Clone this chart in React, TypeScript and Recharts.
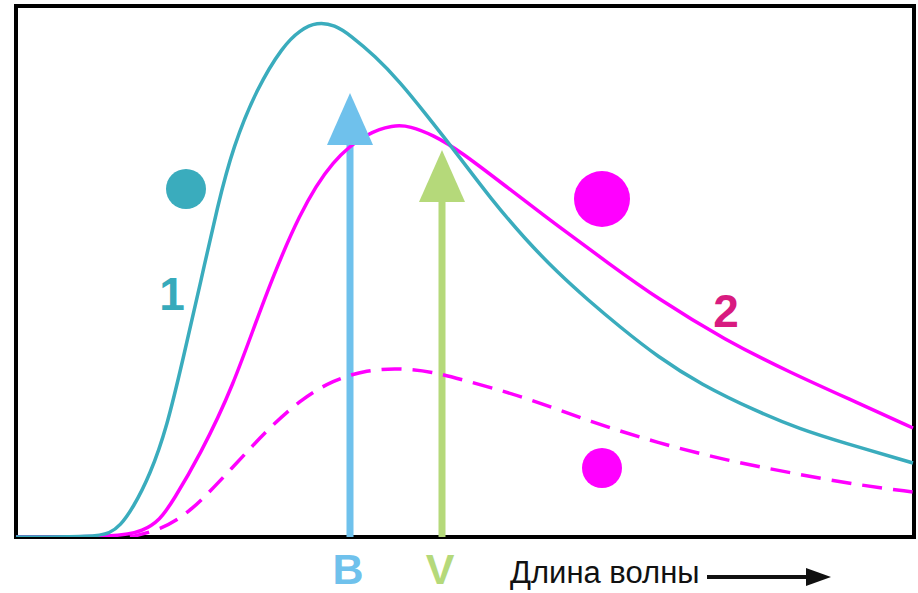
import {
  ComposedChart,
  Line,
  Scatter,
  XAxis,
  YAxis,
  ReferenceArea,
  ReferenceLine,
} from 'recharts';

// wavelength (arbitrary units) vs. flux (arbitrary units)
const curve1 = [
  { x: 0, y: 0 }, { x: 79, y: 0 }, { x: 94, y: 4 }, { x: 104, y: 11 },
  { x: 117, y: 29 }, { x: 134, y: 62 }, { x: 151, y: 110 }, { x: 167, y: 178 },
  { x: 184, y: 252 }, { x: 202, y: 333 }, { x: 217, y: 390 }, { x: 241, y: 449 },
  { x: 267, y: 491 }, { x: 284, y: 507 }, { x: 301, y: 515 }, { x: 319, y: 512 },
  { x: 334, y: 502 }, { x: 359, y: 481 }, { x: 384, y: 455 }, { x: 409, y: 424 },
  { x: 442, y: 382 }, { x: 475, y: 338 }, { x: 509, y: 298 }, { x: 542, y: 264 },
  { x: 572, y: 237 }, { x: 604, y: 210 }, { x: 642, y: 180 }, { x: 684, y: 153 },
  { x: 742, y: 125 }, { x: 784, y: 108 }, { x: 825, y: 95 }, { x: 897, y: 74 },
];

const curve2 = [
  { x: 0, y: 0 }, { x: 104, y: 0 }, { x: 127, y: 6 }, { x: 144, y: 17 },
  { x: 157, y: 36 }, { x: 184, y: 82 }, { x: 217, y: 150 }, { x: 247, y: 236 },
  { x: 284, y: 326 }, { x: 317, y: 378 }, { x: 351, y: 404 }, { x: 377, y: 412 },
  { x: 394, y: 411 }, { x: 417, y: 402 }, { x: 444, y: 386 }, { x: 492, y: 349 },
  { x: 542, y: 311 }, { x: 592, y: 274 }, { x: 642, y: 238 }, { x: 709, y: 197 },
  { x: 775, y: 164 }, { x: 842, y: 134 }, { x: 897, y: 109 },
];

const curve2Dim = [
  { x: 114, y: 0 }, { x: 144, y: 7 }, { x: 174, y: 24 }, { x: 217, y: 70 },
  { x: 251, y: 107 }, { x: 284, y: 137 }, { x: 317, y: 157 }, { x: 351, y: 167 },
  { x: 384, y: 169 }, { x: 417, y: 165 }, { x: 444, y: 158 }, { x: 509, y: 140 },
  { x: 575, y: 115 }, { x: 642, y: 94 }, { x: 709, y: 77 }, { x: 775, y: 64 },
  { x: 842, y: 52 }, { x: 897, y: 45 },
];

// filter bands: position and arrow tip height
const filters = [
  { name: 'B', x: 334, tip: 444, color: '#6fc1ec' },
  { name: 'V', x: 426, tip: 387, color: '#b5d97a' },
];

const stars = [
  { x: 170, y: 348, r: 20, color: '#3aacbd' },
  { x: 586, y: 338, r: 28, color: '#ff00ff' },
  { x: 586, y: 69, r: 20, color: '#ff00ff' },
];

const curveLabels = [
  { x: 156, y: 243, text: '1', color: '#37aabb' },
  { x: 710, y: 226, text: '2', color: '#d81b80' },
];

const HEAD_H = 52;

const ArrowHead = (props: any) => {
  const { cx, cy, payload } = props;
  const w = 23;
  return (
    <polygon
      points={`${cx},${cy} ${cx - w},${cy + HEAD_H} ${cx + w},${cy + HEAD_H}`}
      fill={payload.color}
    />
  );
};

const StarDot = (props: any) => {
  const { cx, cy, payload } = props;
  return <circle cx={cx} cy={cy} r={payload.r} fill={payload.color} />;
};

const CurveLabel = (props: any) => {
  const { cx, cy, payload } = props;
  return (
    <text
      x={cx}
      y={cy + 16}
      textAnchor="middle"
      fill={payload.color}
      fontSize={46}
      fontWeight="bold"
      fontFamily="Liberation Sans, Arial, sans-serif"
    >
      {payload.text}
    </text>
  );
};

const FilterTick = (props: any) => {
  const { x, y, payload } = props;
  const f = filters.find((d) => d.x === payload.value);
  if (!f) return null;
  return (
    <text
      x={x - 2}
      y={y + 39}
      textAnchor="middle"
      fill={f.color}
      fontSize={43}
      fontWeight="bold"
      fontFamily="Liberation Sans, Arial, sans-serif"
    >
      {f.name}
    </text>
  );
};

const AxisTitle = (props: any) => {
  const { viewBox } = props;
  const x0 = viewBox.x + 494;
  const y0 = viewBox.y + 46;
  return (
    <g>
      <text
        x={x0}
        y={y0}
        fill="#111"
        fontSize={31}
        fontFamily="Liberation Sans, Arial, sans-serif"
      >
        Длина волны
      </text>
      <line x1={x0 + 197} y1={y0 - 6} x2={x0 + 302} y2={y0 - 6} stroke="#111" strokeWidth={4} />
      <polygon
        points={`${x0 + 321},${y0 - 6} ${x0 + 296},${y0 - 15} ${x0 + 296},${y0 + 3}`}
        fill="#111"
      />
    </g>
  );
};

export default function App() {
  return (
    <div style={{ position: 'absolute', left: 0, top: 0, background: '#fff' }}>
      <ComposedChart
        width={918}
        height={593}
        margin={{ top: 6, right: 4, bottom: 0, left: 16 }}
      >
        <XAxis
          type="number"
          dataKey="x"
          domain={[0, 898]}
          allowDataOverflow
          ticks={filters.map((f) => f.x)}
          tick={<FilterTick />}
          tickLine={false}
          axisLine={false}
          height={56}
          label={<AxisTitle />}
        />
        <YAxis type="number" dataKey="y" domain={[0, 531]} allowDataOverflow hide />
        {filters.map((f) => (
          <ReferenceLine
            key={f.name}
            segment={[
              { x: f.x, y: 0 },
              { x: f.x, y: f.tip - HEAD_H + 4 },
            ]}
            stroke={f.color}
            strokeWidth={7}
          />
        ))}
        <Line
          data={curve2Dim}
          dataKey="y"
          type="basis"
          stroke="#ff00ff"
          strokeWidth={3.5}
          strokeDasharray="20 11"
          dot={false}
          isAnimationActive={false}
        />
        <Line
          data={curve2}
          dataKey="y"
          type="basis"
          stroke="#ff00ff"
          strokeWidth={3.5}
          dot={false}
          isAnimationActive={false}
        />
        <Line
          data={curve1}
          dataKey="y"
          type="basis"
          stroke="#3aacbd"
          strokeWidth={3.5}
          dot={false}
          isAnimationActive={false}
        />
        <Scatter
          data={filters.map((f) => ({ x: f.x, y: f.tip, color: f.color }))}
          shape={<ArrowHead />}
          isAnimationActive={false}
        />
        <Scatter data={stars} shape={<StarDot />} isAnimationActive={false} />
        <Scatter data={curveLabels} shape={<CurveLabel />} isAnimationActive={false} />
        <ReferenceArea
          x1={0}
          x2={898}
          y1={0}
          y2={531}
          fill="none"
          stroke="#000"
          strokeWidth={4}
        />
      </ComposedChart>
    </div>
  );
}
